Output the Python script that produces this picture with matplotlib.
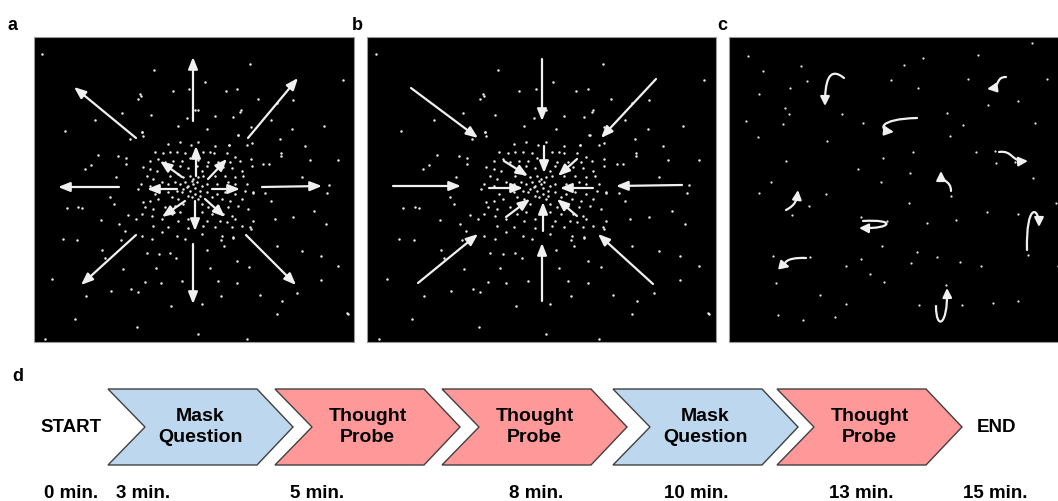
import numpy as np
import matplotlib
matplotlib.use("Agg")
import matplotlib.pyplot as plt
from matplotlib.patches import Rectangle, Polygon, FancyArrowPatch
from matplotlib.path import Path

plt.rcParams['font.family'] = ['Liberation Sans', 'DejaVu Sans']

# ---------------- data ----------------
# scattered dots of the expansion / contraction stimulus (panel-a pixel coordinates)
outer_x = [42, 154, 250, 343, 140, 141, 138, 173, 189, 205, 226, 237, 258, 240, 293, 277, 195, 187,
           151, 122, 95, 65, 142, 143, 130, 178, 207, 215, 233, 238, 251, 271, 292, 280, 324, 338,
           305, 310, 281, 281, 263, 269, 98, 91, 85, 118, 126, 126, 116, 67, 78, 82, 110, 114,
           77, 101, 119, 125, 121, 128, 136, 102, 105, 123, 111, 86, 131, 138, 137, 45, 171, 145,
           161, 182, 156, 147, 159, 170, 176, 253, 265, 271, 327, 314, 293, 275, 326, 253, 251,
           277, 302, 321, 338, 249, 237, 237, 218, 210, 221, 260, 282, 297, 321, 277, 348, 202,
           198, 247, 207, 224, 233, 221, 347, 302, 329, 247, 229, 251, 198, 241, 63, 52, 75]
outer_y = [55, 71, 65, 81, 95, 97, 100, 92, 90, 83, 92, 90, 100, 113, 101, 104, 111, 119,
           116, 114, 121, 132, 133, 137, 140, 127, 130, 117, 118, 136, 128, 121, 130, 140, 127, 161,
           147, 161, 154, 157, 165, 165, 156, 166, 170, 157, 159, 165, 178, 209, 208, 209, 198, 205,
           241, 221, 225, 232, 241, 216, 220, 251, 259, 270, 292, 297, 290, 293, 328, 340, 307, 283,
           284, 282, 269, 254, 255, 254, 259, 194, 194, 202, 194, 212, 218, 220, 225, 222, 230,
           247, 252, 257, 267, 268, 262, 284, 282, 269, 297, 296, 302, 294, 281, 315, 315, 305,
           335, 340, 251, 247, 239, 241, 314, 178, 186, 146, 146, 160, 111, 111, 240, 280, 320]

cloud_zx = [22, 100, 135, 168, 190, 240, 282, 310, 350, 60, 85, 105, 125, 150, 205, 225, 238, 275,
            300, 45, 70, 90, 115, 140, 165, 190, 220, 250, 285, 315, 25, 45, 65, 135, 160, 185,
            200, 215, 265, 290, 320, 350, 35, 55, 105, 130, 145, 165, 175, 190, 205, 240, 270, 300,
            325, 18, 45, 80, 100, 120, 135, 150, 160, 175, 185, 200, 215, 245, 280, 300, 335, 10,
            60, 100, 125, 145, 165, 180, 195, 215, 245, 270, 300, 330, 355, 25, 45, 70, 110, 130,
            160, 190, 230, 260, 285, 320, 30, 55, 90, 120, 145, 200, 220, 250, 280, 310, 340, 20,
            50, 110, 135, 200, 230, 265, 290, 80, 130, 160, 215, 255, 275, 300, 55, 100, 160, 205,
            240, 290, 320, 345, 20, 80, 125, 200, 260, 295, 50, 150, 170, 155, 180, 140, 195, 170]
cloud_zy = [8, 45, 38, 48, 38, 50, 48, 18, 42, 68, 72, 70, 68, 72, 70, 68, 72, 72,
            85, 95, 90, 100, 95, 95, 88, 92, 98, 98, 100, 95, 115, 120, 125, 110, 118, 112,
            125, 110, 115, 118, 125, 110, 140, 150, 140, 135, 145, 140, 150, 145, 140, 140, 140, 145,
            140, 165, 170, 160, 165, 160, 165, 160, 170, 165, 160, 170, 165, 165, 160, 165, 165, 180,
            195, 190, 185, 180, 185, 195, 185, 190, 195, 190, 195, 185, 190, 220, 215, 210, 205, 210,
            200, 210, 205, 210, 215, 210, 235, 240, 235, 230, 225, 225, 235, 230, 235, 230, 240, 255,
            260, 255, 250, 250, 255, 255, 260, 270, 275, 270, 275, 275, 280, 270, 290, 295, 298, 290,
            295, 295, 290, 295, 320, 310, 320, 315, 320, 325, 330, 330, 155, 175, 178, 190, 200, 205]

# panel a: outward arrows (start x, start y, end x, end y)
exp_x0 = [193, 248, 262, 246, 193, 136, 119, 136, 196, 208, 212, 205, 195, 185, 177, 182]
exp_y0 = [122, 139, 188, 236, 245, 236, 188, 139, 177, 180, 190, 200, 202, 202, 190, 178]
exp_x1 = [193, 298, 322, 296, 193, 81, 58, 74, 196, 227, 240, 225, 195, 162, 147, 160]
exp_y1 = [58, 79, 187, 286, 305, 286, 188, 88, 147, 160, 190, 218, 232, 218, 190, 162]

# panel b: inward arrows
con_x0 = [542, 656, 682, 653, 542, 418, 393, 411, 544, 577, 593, 577, 543, 506, 489, 504]
con_y0 = [60, 80, 186, 285, 302, 284, 187, 89, 147, 160, 189, 217, 232, 218, 189, 162]
con_x1 = [542, 601, 616, 598, 542, 478, 461, 478, 544, 558, 560, 557, 543, 530, 523, 528]
con_y1 = [122, 139, 187, 235, 244, 235, 187, 139, 174, 177, 189, 200, 203, 200, 189, 177]

# panel c: random-motion dots and curved trajectories (cubic Bezier control points)
rnd_x = [748, 763, 801, 807, 790, 759, 785, 789, 783, 746, 758, 827, 842, 863, 786, 771, 759, 792,
         809, 826, 858, 881, 883, 910, 913, 918, 891, 904, 923, 978, 1032, 968, 1047, 1018, 988,
         947, 963, 950, 1035, 976, 996, 1015, 1033, 1056, 1018, 987, 956, 927, 909, 887, 861, 882,
         917, 911, 937, 960, 981, 1028, 1058, 773, 810, 776, 846, 861, 870, 884, 820, 846, 778,
         803, 835, 919, 946, 962, 993, 1018, 951, 995]
rnd_y = [57, 72, 67, 82, 89, 95, 109, 115, 125, 122, 138, 142, 115, 124, 162, 183, 194, 216,
         207, 195, 170, 183, 159, 174, 153, 89, 81, 66, 59, 56, 44, 80, 80, 102, 106, 114, 126,
         137, 124, 153, 164, 163, 179, 204, 215, 213, 221, 224, 204, 222, 218, 247, 253, 264,
         258, 263, 267, 256, 267, 257, 258, 284, 267, 260, 275, 283, 296, 305, 316, 321, 318, 306,
         286, 306, 304, 302, 197, 152]
traj_x0 = [844, 1006, 917, 999, 951, 786, 863, 1027, 806, 936]
traj_y0 = [79, 78, 119, 153, 192, 211, 222, 251, 259, 307]
traj_x1 = [828, 995, 878, 1013, 951, 796, 897, 1026, 784, 936]
traj_y1 = [66, 78, 120, 151, 181, 206, 220, 203, 258, 332]
traj_x2 = [825, 1001, 878, 1011, 941, 797, 892, 1039, 782, 948]
traj_y2 = [85, 88, 131, 163, 183, 200, 230, 208, 266, 327]
traj_x3 = [825, 987, 894, 1028, 941, 798, 859, 1039, 790, 947]
traj_y3 = [107, 90, 133, 162, 172, 191, 229, 228, 268, 289]

# panel d: session timeline
block_labels = ["Mask\nQuestion", "Thought\nProbe", "Thought\nProbe", "Mask\nQuestion", "Thought\nProbe"]
block_kind = ["mask", "probe", "probe", "mask", "probe"]
block_left = [108, 275, 442, 613, 777]
time_labels = ["0 min.", "3 min.", "5 min.", "8 min.", "10 min.", "13 min.", "15 min."]
time_pos = [71, 143, 317, 536, 696, 861, 995]

# ---------------- drawing ----------------
fig = plt.figure(figsize=(10.58, 5.02), dpi=100)
ax = fig.add_axes([0, 0, 1, 1])
ax.set_xlim(0, 1058)
ax.set_ylim(502, 0)
ax.axis('off')

A = (34, 38, 354, 343)
B = (367, 38, 716, 343)
C = (729, 38, 1060, 343)
for (l, t, r, b) in (A, B, C):
    ax.add_patch(Rectangle((l, t), r - l, b - t, facecolor='black', edgecolor='#9a9a9a', lw=0.8, zorder=1))

dots_x = np.concatenate([outer_x, np.array(cloud_zx) / 3 + 135])
dots_y = np.concatenate([outer_y, np.array(cloud_zy) / 3 + 130])
dot_kw = dict(s=3.2, c='#e8e8e8', linewidths=0, zorder=2)
ax.scatter(dots_x, dots_y, **dot_kw)
u = (dots_x - A[0]) / (A[2] - A[0])
ax.scatter(B[0] + u * (B[2] - B[0]), dots_y, **dot_kw)
ax.scatter(rnd_x, rnd_y, s=2.6, c='#e0e0e0', linewidths=0, zorder=2)

arrow_kw = dict(arrowstyle='-|>,head_length=0.7,head_width=0.28', mutation_scale=10,
                color='#f0f0f0', lw=1.6, shrinkA=0, shrinkB=0, zorder=3)
for x0, y0, x1, y1 in zip(exp_x0, exp_y0, exp_x1, exp_y1):
    ax.add_patch(FancyArrowPatch((x0, y0), (x1, y1), **arrow_kw))
for x0, y0, x1, y1 in zip(con_x0, con_y0, con_x1, con_y1):
    ax.add_patch(FancyArrowPatch((x0, y0), (x1, y1), **arrow_kw))

for i in range(len(traj_x0)):
    verts = [(traj_x0[i], traj_y0[i]), (traj_x1[i], traj_y1[i]),
             (traj_x2[i], traj_y2[i]), (traj_x3[i], traj_y3[i])]
    path = Path(verts, [Path.MOVETO, Path.CURVE4, Path.CURVE4, Path.CURVE4])
    ax.add_patch(FancyArrowPatch(path=path, arrowstyle='-|>,head_length=0.6,head_width=0.3',
                                 mutation_scale=9, color='#f0f0f0', lw=1.6, zorder=3))

txt = dict(fontweight='bold', color='black', ha='center', va='center')
ax.text(13, 26, "a", fontsize=13, **txt)
ax.text(357, 26, "b", fontsize=13, **txt)
ax.text(722, 26, "c", fontsize=13, **txt)
ax.text(18, 377, "d", fontsize=13, **txt)

colors = {"mask": "#bdd7ee", "probe": "#ff9999"}
top, bot, notch, body_w, tip = 390, 466, 37, 149, 36
mid = (top + bot) / 2
for lab, kind, L in zip(block_labels, block_kind, block_left):
    R = L + body_w
    poly = [(L, top), (R, top), (R + tip, mid), (R, bot), (L, bot), (L + notch, mid)]
    ax.add_patch(Polygon(poly, closed=True, facecolor=colors[kind], edgecolor='#404040', lw=1.0, zorder=2))
    ax.text(L + (body_w + tip) / 2, mid - 1, lab, fontsize=14, linespacing=1.25, **txt)

ax.text(71, 428, "START", fontsize=13.5, **txt)
ax.text(996, 428, "END", fontsize=13.5, **txt)
for lab, x in zip(time_labels, time_pos):
    ax.text(x, 494, lab, fontsize=13.5, **txt)

fig.savefig("out.png", dpi=100, facecolor='white')
